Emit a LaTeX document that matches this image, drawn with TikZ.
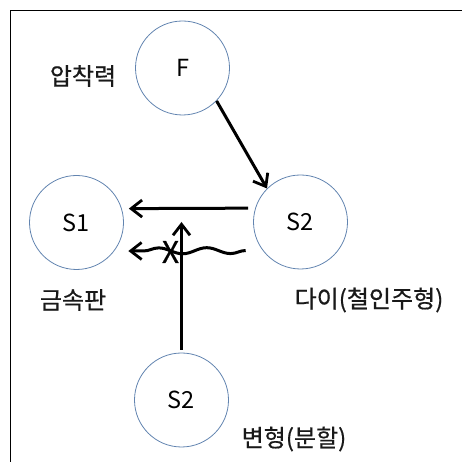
\documentclass[tikz,border=0pt]{standalone}
\usepackage{fontspec}
\setmainfont{Noto Sans CJK KR}
\newfontfamily\labelfont{Noto Sans CJK KR}[FakeBold=0.6]
\usetikzlibrary{arrows.meta,decorations.pathmorphing,calc}
\definecolor{ringblue}{RGB}{98,132,176}
\begin{document}
\begin{tikzpicture}[x=1pt,y=1pt,
  ring/.style={circle,draw=ringblue,line width=0.8pt,minimum size=94pt,inner sep=0pt,
    font=\fontsize{23.5}{26}\selectfont},
  lbl/.style={font=\labelfont\fontsize{24}{26}\selectfont,text=black!90,inner sep=0pt},
  flow/.style={line width=3pt,-{Straight Barb[length=11pt,width=17pt,line width=2.8pt]}},
  frameline/.style={line width=1.4pt}]
\useasboundingbox (0,0) rectangle (462,462);
% open frame along the top and left edges
\draw[frameline] (10.5,0) -- (10.5,451.5) -- (462,451.5);

% states
\node[ring] (F)   at (182.5,394) {F};
\node[ring] (S1)  at (76.5,239.5) {S1};
\node[ring] (S2r) at (300.5,240) {S2};
\node[ring] (S2b) at (181.5,62) {S2};

% captions
\node[lbl] (tF)   at (83,386) {압착력};
\node[lbl] (tS1)  at (73,162) {금속판};
\node[lbl] (tS2r) at (369,162) {다이(철인주형)};
\node[lbl] (tS2b) at (294,23) {변형(분할)};

% transitions
\draw[flow] (F.-44) -- (S2r.135);
\draw[flow,shorten <=7pt,shorten >=7pt] (S2r.163) -- (S1.17);
\coordinate (hit) at (181.5,240);
\draw[flow,shorten <=3pt] (S2b.north) -- (hit);
\coordinate (waveA) at ($(S2r.217)+(-17,0)$);
\coordinate (waveB) at ($(S1.-37)+(14,0)$);
\draw[flow,decorate,decoration={snake,amplitude=3pt,segment length=48pt,post length=14pt}]
  (waveA) -- (waveB);
% blocked path mark
\node[font=\labelfont\fontsize{30}{32}\selectfont,inner sep=0pt,anchor=base] (cross) at (170.5,199) {X};
\end{tikzpicture}
\end{document}
